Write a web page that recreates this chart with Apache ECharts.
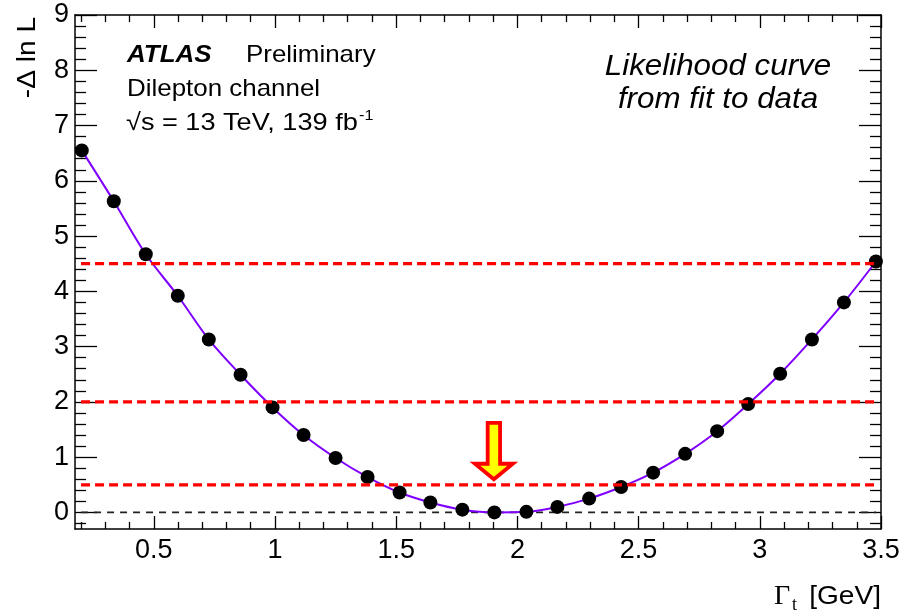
<!DOCTYPE html>
<html>
<head>
<meta charset="utf-8">
<script src="https://cdn.jsdelivr.net/npm/echarts@6/dist/echarts.min.js"></script>
<style>html,body{margin:0;padding:0;background:#fff}#c{width:900px;height:612px}</style>
</head>
<body>
<div id="c"></div>
<script>
// ---- data ----
const gammaValues = [0.203, 0.335, 0.467, 0.599, 0.727, 0.858, 0.990, 1.118, 1.250, 1.382, 1.514, 1.641, 1.773, 1.905, 2.037, 2.165, 2.296, 2.428, 2.560, 2.692, 2.824, 2.952, 3.084, 3.215, 3.347, 3.479];
const nllValues   = [6.55, 5.63, 4.67, 3.92, 3.13, 2.49, 1.90, 1.40, 0.985, 0.64, 0.36, 0.18, 0.05, 0.0, 0.01, 0.10, 0.25, 0.46, 0.72, 1.06, 1.47, 1.96, 2.51, 3.13, 3.80, 4.54];
const refLevels = [0.5, 2.0, 4.5];
const refRange = [0.2, 3.48];
const zeroLevel = 0;
const arrowData = [[1.903, 0.6, 1.62]]; // x, tip y, top y
const xTickLabels = [0.5, 1, 1.5, 2, 2.5, 3, 3.5];
const yTickLabels = [0, 1, 2, 3, 4, 5, 6, 7, 8, 9];
const xMinorTicks = [0.2,0.3,0.4,0.6,0.7,0.8,0.9,1.1,1.2,1.3,1.4,1.6,1.7,1.8,1.9,2.1,2.2,2.3,2.4,2.6,2.7,2.8,2.9,3.1,3.2,3.3,3.4];
const yMinorTicks = [-0.2,0.2,0.4,0.6,0.8,1.2,1.4,1.6,1.8,2.2,2.4,2.6,2.8,3.2,3.4,3.6,3.8,4.2,4.4,4.6,4.8,5.2,5.4,5.6,5.8,6.2,6.4,6.6,6.8,7.2,7.4,7.6,7.8,8.2,8.4,8.6,8.8];
const xRange = [0.175, 3.5];
const yRange = [-0.3, 9];

const FONT = 'Liberation Sans';
const chart = echarts.init(document.getElementById('c'), null, {renderer: 'canvas'});

function xAx(pos, ticks, len, labels, line) {
  return {
    type: 'value', position: pos, min: xRange[0], max: xRange[1],
    splitLine: {show: false},
    axisLine: {show: line, onZero: false, lineStyle: {color: '#000', width: 1.5}},
    axisTick: {show: true, inside: true, length: len, customValues: ticks, lineStyle: {color: '#000', width: 1.3}},
    axisLabel: labels ? {show: true, customValues: xTickLabels, margin: 8, color: '#000', fontFamily: FONT, fontSize: 27} : {show: false}
  };
}
function yAx(pos, ticks, len, labels, line) {
  return {
    type: 'value', position: pos, min: yRange[0], max: yRange[1],
    splitLine: {show: false},
    axisLine: {show: line, onZero: false, lineStyle: {color: '#000', width: 1.5}},
    axisTick: {show: true, inside: true, length: len, customValues: ticks, lineStyle: {color: '#000', width: 1.3}},
    axisLabel: labels ? {show: true, customValues: yTickLabels, margin: 6, color: '#000', fontFamily: FONT, fontSize: 27} : {show: false}
  };
}

const curve = gammaValues.map((x, i) => [x, nllValues[i]]);

const series = [
  {
    type: 'line', data: [[refRange[0], zeroLevel], [refRange[1], zeroLevel]],
    symbol: 'none', silent: true, z: 1,
    lineStyle: {color: '#222', width: 1.6, type: [7, 6]}
  },
  {
    type: 'line', data: curve, smooth: 0.35, symbol: 'none', z: 3,
    lineStyle: {color: '#7f00ff', width: 2}
  },
  {
    type: 'scatter', data: curve, symbolSize: 14, z: 4,
    itemStyle: {color: '#000', opacity: 1}
  }
];
refLevels.forEach(v => series.push({
  type: 'line', data: [[refRange[0], v], [refRange[1], v]],
  symbol: 'none', silent: true, z: 6,
  lineStyle: {color: '#ff0000', width: 3.2, type: [9, 5]}
}));
series.push({
  type: 'custom', data: arrowData, z: 8,
  renderItem: function (params, api) {
    const tip = api.coord([api.value(0), api.value(1)]);
    const top = api.coord([api.value(0), api.value(2)]);
    const hw = 6.2, hh = 19, headH = 15.5;
    const cx = tip[0], ty = tip[1];
    return {
      type: 'polygon',
      shape: {points: [
        [cx, ty], [cx + hh, ty - headH], [cx + hw, ty - headH], [cx + hw, top[1]],
        [cx - hw, top[1]], [cx - hw, ty - headH], [cx - hh, ty - headH]
      ]},
      style: {fill: '#ffff00', stroke: '#ff0000', lineWidth: 3.8, lineJoin: 'miter'}
    };
  }
});

const SX = 1.08;
const graphics = [
  {type: 'text', x: 28, y: 17, rotation: Math.PI / 2, scaleX: SX,
   style: {text: '-\u0394 ln L', font: '26px "' + FONT + '"', fill: '#000', align: 'right', verticalAlign: 'middle'}},
  {type: 'text', x: 127, y: 55, scaleX: SX,
   style: {text: 'ATLAS', font: 'italic bold 24px "' + FONT + '"', fill: '#000', align: 'left', verticalAlign: 'middle'}},
  {type: 'text', x: 246, y: 55, scaleX: SX,
   style: {text: 'Preliminary', font: '24px "' + FONT + '"', fill: '#000', align: 'left', verticalAlign: 'middle'}},
  {type: 'text', x: 127, y: 89, scaleX: SX,
   style: {text: 'Dilepton channel', font: '24px "' + FONT + '"', fill: '#000', align: 'left', verticalAlign: 'middle'}},
  {type: 'text', x: 126, y: 123, scaleX: 1.13,
   style: {text: '\u221As = 13 TeV, 139 fb', font: '24px "' + FONT + '"', fill: '#000', align: 'left', verticalAlign: 'middle'}},
  {type: 'text', x: 359, y: 116, scaleX: SX,
   style: {text: '-1', font: '15px "' + FONT + '"', fill: '#000', align: 'left', verticalAlign: 'middle'}},
  {type: 'text', x: 718, y: 67, scaleX: SX,
   style: {text: 'Likelihood curve', font: 'italic 29px "' + FONT + '"', fill: '#000', align: 'center', verticalAlign: 'middle'}},
  {type: 'text', x: 718, y: 100, scaleX: SX,
   style: {text: 'from fit to data', font: 'italic 29px "' + FONT + '"', fill: '#000', align: 'center', verticalAlign: 'middle'}},
  {type: 'text', x: 774, y: 597,
   style: {text: '\u0393', font: '28px "Liberation Serif"', fill: '#000', align: 'left', verticalAlign: 'middle'}},
  {type: 'text', x: 792, y: 605,
   style: {text: 't', font: '18px "Liberation Serif"', fill: '#000', align: 'left', verticalAlign: 'middle'}},
  {type: 'text', x: 881, y: 597, scaleX: SX,
   style: {text: '[GeV]', font: '26px "' + FONT + '"', fill: '#000', align: 'right', verticalAlign: 'middle'}}
];

chart.setOption({
  animation: false,
  backgroundColor: '#fff',
  grid: {left: 75, right: 19, top: 15, bottom: 83, containLabel: false, outerBoundsMode: 'none'},
  xAxis: [
    xAx('bottom', xTickLabels, 13, true, true),
    xAx('bottom', xMinorTicks, 7, false, false),
    xAx('top', xTickLabels, 13, false, true),
    xAx('top', xMinorTicks, 7, false, false)
  ],
  yAxis: [
    yAx('left', yTickLabels, 22, true, true),
    yAx('left', yMinorTicks, 11, false, false),
    yAx('right', yTickLabels, 22, false, true),
    yAx('right', yMinorTicks, 11, false, false)
  ],
  series: series,
  graphic: graphics
});
</script>
</body>
</html>
